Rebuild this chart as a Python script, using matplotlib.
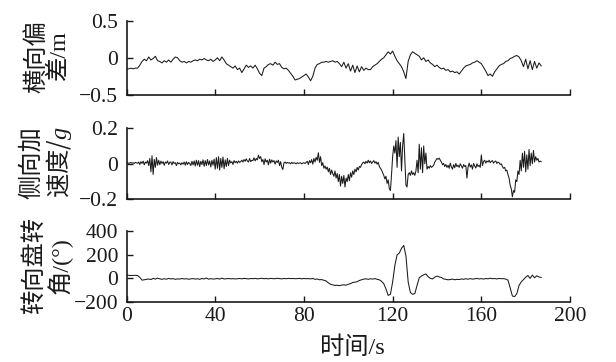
"""
Vehicle test record: lateral deviation, lateral acceleration and
steering wheel angle against time (three stacked panels).

Output:
    out.png (616x362)
"""

import matplotlib

matplotlib.use("Agg")

import matplotlib.pyplot as plt
import numpy as np
from matplotlib import rcParams


# lateral deviation (m), one sample per second, t = 0 .. 187 s
LATERAL_DEVIATION = [
    -0.15, -0.15, -0.14, -0.15, -0.14, -0.14, -0.10, -0.05, -0.02, -0.04,
    0.01, -0.03, -0.01, 0.02, -0.04, -0.05, -0.07, -0.04, -0.06, -0.03,
    -0.06, -0.02, 0.01, 0.00, -0.04, -0.06, -0.05, -0.07, -0.05, -0.06,
    -0.04, -0.03, -0.04, -0.02, -0.03, -0.01, -0.03, -0.04, -0.02, -0.05,
    -0.03, 0.00, -0.04, 0.01, -0.03, -0.08, -0.10, -0.12, -0.14, -0.11,
    -0.16, -0.14, -0.20, -0.15, -0.10, -0.13, -0.11, -0.14, -0.10, -0.15,
    -0.21, -0.24, -0.14, -0.12, -0.09, -0.08, -0.10, -0.06, -0.09, -0.08,
    -0.13, -0.15, -0.14, -0.17, -0.21, -0.25, -0.30, -0.29, -0.28, -0.26,
    -0.24, -0.22, -0.26, -0.31, -0.25, -0.14, -0.09, -0.08, -0.06, -0.06,
    -0.05, -0.06, -0.05, -0.04, -0.06, -0.05, -0.08, -0.12, -0.06, -0.14,
    -0.08, -0.18, -0.10, -0.20, -0.11, -0.19, -0.12, -0.17, -0.14, -0.16,
    -0.16, -0.12, -0.10, -0.08, -0.05, -0.02, 0.00, 0.04, 0.08, 0.05,
    0.09, 0.02, -0.04, -0.08, -0.12, -0.19, -0.28, -0.05, 0.04, 0.08,
    0.06, 0.04, 0.02, -0.03, 0.00, -0.05, -0.03, -0.07, -0.09, -0.12,
    -0.10, -0.13, -0.15, -0.14, -0.17, -0.16, -0.19, -0.18, -0.20, -0.19,
    -0.22, -0.18, -0.14, -0.11, -0.10, -0.09, -0.07, -0.06, -0.04, -0.06,
    -0.08, -0.13, -0.18, -0.24, -0.22, -0.25, -0.19, -0.15, -0.11, -0.09,
    -0.08, -0.05, -0.04, -0.01, 0.00, 0.02, 0.03, 0.01, -0.04, -0.12,
    -0.02, -0.15, -0.04, -0.16, -0.05, -0.14, -0.07, -0.11,
]

# lateral acceleration (g), two samples per second, t = 0 .. 187 s
LATERAL_ACCEL = [
    0.004, 0.006, 0.003, 0.005, 0.007, 0.004, 0.006, 0.002, 0.008, 0.005,
    0.003, 0.010, -0.004, 0.012, 0.002, 0.015, -0.006, 0.010, 0.004, 0.018,
    -0.010, 0.030, -0.045, 0.045, -0.060, 0.025, -0.020, 0.035, -0.008, 0.020,
    -0.005, 0.015, 0.002, 0.012, -0.008, 0.010, 0.004, 0.016, -0.004, 0.008,
    0.010, -0.006, 0.012, 0.002, 0.006, -0.010, 0.008, 0.000, 0.004, -0.006,
    0.006, -0.002, 0.010, -0.008, 0.012, -0.004, 0.008, 0.002, -0.010, 0.014,
    -0.006, 0.016, -0.012, 0.020, -0.008, 0.018, -0.016, 0.014, -0.004, 0.022,
    -0.014, 0.018, -0.010, 0.024, -0.006, 0.016, -0.018, 0.020, -0.008, 0.026,
    -0.030, 0.035, -0.025, 0.040, -0.035, 0.030, -0.020, 0.038, -0.028, 0.022,
    -0.015, 0.030, -0.010, 0.020, 0.005, 0.012, -0.004, 0.018, 0.006, 0.014,
    0.004, 0.016, 0.008, 0.012, 0.020, 0.010, 0.024, 0.014, 0.028, 0.016,
    0.010, 0.030, 0.012, 0.020, 0.018, 0.034, 0.016, 0.030, 0.022, 0.048,
    0.030, 0.040, 0.012, 0.024, -0.004, 0.028, 0.010, 0.020, -0.006, 0.026,
    0.004, 0.022, 0.010, 0.018, -0.002, 0.016, 0.008, 0.020, -0.010, 0.012,
    -0.020, -0.032, 0.006, 0.010, 0.002, 0.008, 0.004, 0.006, 0.000, 0.008,
    0.002, 0.006, 0.004, 0.000, 0.006, 0.002, 0.004, 0.006, 0.000, 0.004,
    0.006, 0.002, 0.008, 0.014, -0.004, 0.018, 0.006, 0.024, -0.002, 0.030,
    0.010, 0.036, 0.020, 0.062, 0.008, 0.040, -0.010, 0.006, -0.025, -0.012,
    -0.030, -0.018, -0.045, -0.025, -0.060, -0.035, -0.055, -0.070, -0.040, -0.080,
    -0.055, -0.100, -0.060, -0.125, -0.070, -0.110, -0.065, -0.130, -0.080, -0.100,
    -0.060, -0.095, -0.050, -0.075, -0.040, -0.060, -0.030, -0.045, -0.020, -0.035,
    -0.015, -0.020, -0.005, 0.005, 0.010, 0.000, 0.014, 0.004, 0.020, 0.006,
    0.016, 0.002, 0.010, 0.018, 0.004, 0.012, -0.002, 0.008, -0.015, -0.025,
    -0.035, -0.050, -0.065, -0.085, -0.070, -0.110, -0.090, -0.140, -0.150, -0.060,
    0.040, 0.100, 0.060, 0.130, -0.020, 0.150, 0.040, 0.120, -0.040, 0.100,
    0.170, 0.020, -0.120, -0.130, -0.060, -0.050, -0.065, -0.040, -0.060, -0.050,
    -0.065, -0.040, 0.020, -0.050, 0.110, -0.030, 0.090, -0.050, 0.100, 0.000,
    0.060, -0.030, -0.015, -0.025, -0.010, -0.020, -0.015, -0.008, 0.010, 0.020,
    0.030, 0.025, 0.032, 0.020, 0.010, -0.005, 0.002, -0.015, -0.004, -0.020,
    -0.008, -0.025, 0.004, -0.018, -0.030, -0.005, -0.022, 0.002, -0.016, -0.008,
    -0.020, 0.000, -0.012, -0.025, -0.004, -0.015, -0.010, -0.080, -0.020, 0.004,
    -0.018, -0.006, -0.030, 0.002, -0.012, -0.024, 0.000, -0.015, -0.008, -0.020,
    0.050, -0.010, 0.012, 0.020, 0.004, 0.016, 0.010, 0.020, 0.006, 0.014,
    0.018, 0.004, 0.012, 0.016, 0.002, 0.010, 0.006, -0.004, 0.000, -0.015,
    -0.025, -0.020, -0.040, -0.035, -0.060, -0.080, -0.120, -0.140, -0.185, -0.150,
    -0.160, -0.090, -0.100, -0.040, -0.060, 0.020, -0.040, 0.060, -0.020, 0.070,
    -0.045, 0.050, -0.030, 0.080, -0.010, 0.060, 0.000, 0.075, 0.010, 0.040,
    0.020, 0.030, 0.010, 0.015, 0.012,
]

# steering wheel angle (deg), one sample per second, t = 0 .. 187 s
STEERING_ANGLE = [
    25, 26, 24, 25, 26, 24, 8, -15, -12, -8,
    -5, -10, 0, -6, 2, -4, -8, -3, -7, 0,
    -5, -2, -8, -4, -6, -1, -5, -3, -7, -4,
    -2, -6, -3, -8, -1, -5, 3, -7, -2, -6,
    -4, -1, -6, 2, -5, -3, -1, -4, -2, -5,
    -3, -1, -4, 0, -2, -5, -1, -3, 0, -4,
    -2, 1, -3, -1, -4, 0, -2, -3, 1, -2,
    -4, -1, -3, 0, -2, -1, -3, -2, 0, -4,
    -1, -3, -2, -4, -1, -8, -5, -12, -10, -16,
    -22, -38, -50, -55, -60, -58, -62, -57, -55, -58,
    -50, -45, -35, -32, -28, -18, -12, -6, -4, -8,
    -3, -6, -2, -8, -12, -25, -45, -90, -145, -135,
    -30, 110, 200, 215, 255, 280, 190, -30, -120, -135,
    -130, -60, 5, 20, 30, 38, 15, 0, -5, 10,
    20, 12, 8, -5, -8, -12, -10, -6, -12, -8,
    -10, -5, -8, -3, -7, -2, -6, -4, 0, -5,
    -2, -6, -1, -4, 2, -3, -1, -5, 0, -3,
    -2, -6, -15, -80, -150, -155, -130, -60, -30, -10,
    10, 25, 0, 28, 5, 22, 12, 8,
]

X_TICKS = [0, 40, 80, 120, 160, 200]
PANELS = [
    # (values, sample step s, y label, y limits, y ticks)
    (LATERAL_DEVIATION, 1.0, "横向偏\n差/m", (-0.5, 0.5), [-0.5, 0, 0.5]),
    (LATERAL_ACCEL, 0.5, "侧向加\n$\\mathrm{速度/}g$", (-0.2, 0.2), [-0.2, 0, 0.2]),
    (STEERING_ANGLE, 1.0, "转向盘转\n角/(°)", (-200, 400), [-200, 0, 200, 400]),
]
X_LABEL = "时间/s"
INK = "#1a1a1a"


def setup_font() -> None:
    rcParams["font.family"] = ["Liberation Serif", "Noto Sans CJK SC"]
    # mathtext is only used for the italic g; CJK inside it goes through rm
    rcParams["mathtext.fontset"] = "custom"
    rcParams["mathtext.rm"] = "Noto Sans CJK SC"
    rcParams["mathtext.it"] = "Liberation Serif:italic"
    rcParams["axes.unicode_minus"] = True


def tick_text(value) -> str:
    if value == 0:
        return "0"
    return f"{value:g}".replace("-", "\u2212")


def main() -> None:
    setup_font()
    fig = plt.figure(figsize=(6.16, 3.62), dpi=100)

    left, width = 0.2054, 0.72
    boxes = [(0.738, 0.205), (0.449, 0.197), (0.166, 0.195)]

    axes = []
    for (values, step, label, ylim, yticks), (bottom, height) in zip(PANELS, boxes):
        ax = fig.add_axes([left, bottom, width, height])
        t = np.arange(len(values)) * step
        ax.plot(t, values, color=INK, linewidth=0.75)

        ax.set_xlim(0, 200)
        ax.set_ylim(*ylim)
        ax.set_xticks(X_TICKS)
        ax.set_yticks(yticks)
        ax.set_yticklabels([tick_text(v) for v in yticks])

        for side in ("top", "right"):
            ax.spines[side].set_visible(False)
        for side in ("left", "bottom"):
            ax.spines[side].set_linewidth(1.2)
            ax.spines[side].set_color(INK)

        ax.tick_params(direction="in", length=4, width=1.0, colors=INK,
                       labelsize=15.5)
        ax.tick_params(axis="y", pad=6)
        ax.tick_params(axis="x", pad=4)

        ax.set_ylabel(label, fontsize=17.5, va="center", linespacing=1.05,
                      color=INK)
        ax.yaxis.set_label_coords(-0.178, 0.52)
        axes.append(ax)

    for ax in axes[:-1]:
        ax.tick_params(axis="x", labelbottom=False)

    axes[-1].set_xticklabels([str(v) for v in X_TICKS])
    axes[-1].set_xlabel(X_LABEL, fontsize=17.5, va="center", color=INK)
    axes[-1].xaxis.set_label_coords(0.51, -0.65)

    fig.savefig("out.png", dpi=100)
    plt.close(fig)


if __name__ == "__main__":
    main()
